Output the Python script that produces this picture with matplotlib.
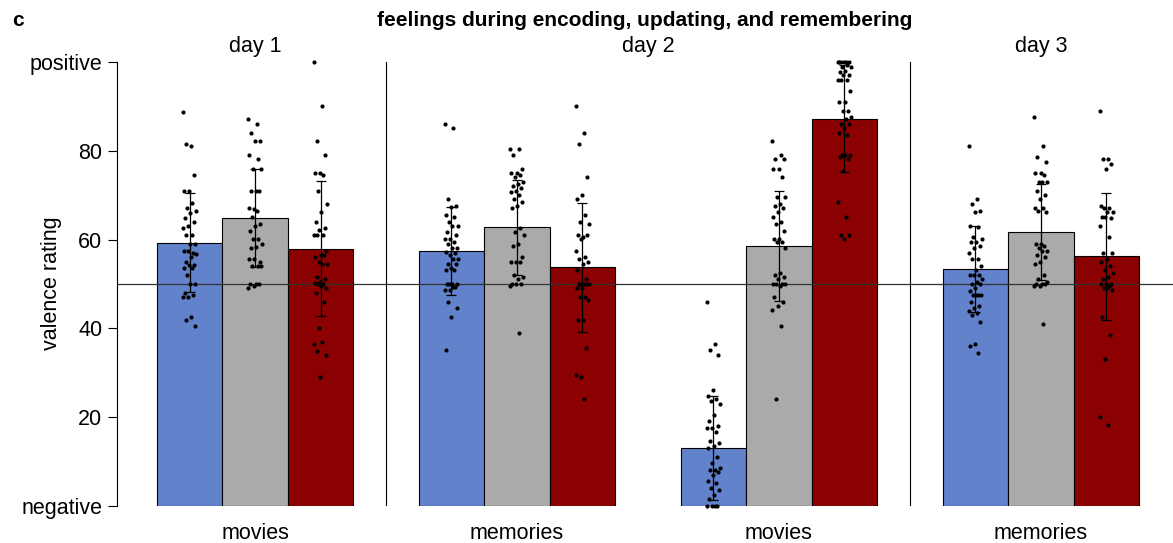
import numpy as np
import matplotlib
matplotlib.use("Agg")
import matplotlib.pyplot as plt

plt.rcParams['font.family'] = ['Liberation Sans', 'DejaVu Sans']

# panel layout: day 1 movies | day 2 memories, day 2 movies | day 3 memories
phases = ["movies", "memories", "movies", "memories"]
days = ["day 1", "day 2", "day 3"]
day_pos = [0, 1.5, 3]
conditions = ["negative", "neutral", "positive"]
colors = ["#6282cc", "#aaaaaa", "#8b0000"]

# mean valence per phase, one list per condition
mean_neg = [59.3, 57.5, 13.1, 53.3]
mean_neu = [64.9, 62.8, 58.5, 61.7]
mean_pos = [57.9, 53.8, 87.2, 56.2]

# standard deviations
sd_neg = [11.1, 9.9, 11.7, 9.7]
sd_neu = [11.0, 10.7, 12.4, 10.9]
sd_pos = [15.2, 14.5, 12.0, 14.2]

# single-subject ratings
d1_mov_neg = [88.7, 81.1, 81.5, 74.5, 71.0, 71.0, 68.2, 67.0, 66.4, 66.0, 64.9, 64.0, 63.1,
              62.5, 61.0, 61.0, 58.9, 59.1, 57.4, 57.0, 57.4, 56.7, 56.1, 55.0, 54.2, 54.2,
              53.7, 53.7, 52.0, 50.1, 50.1, 48.0, 47.5, 47.1, 47.1, 42.5, 42.0, 40.5]
d1_mov_neu = [87.1, 86.0, 84.0, 82.1, 82.1, 79.1, 78.2, 76.0, 76.0, 71.0, 71.0, 71.0, 66.9,
              67.2, 66.5, 65.0, 63.6, 63.1, 62.0, 60.1, 60.1, 58.9, 58.4, 58.2, 55.0, 55.6,
              55.6, 54.1, 54.1, 54.1, 50.1, 50.1, 50.1, 49.5, 49.1]
d1_mov_pos = [100.0, 90.1, 82.1, 79.1, 75.1, 75.1, 74.5, 71.0, 68.0, 66.1, 64.0, 62.5, 62.2,
              61.0, 61.0, 61.0, 57.5, 56.5, 56.0, 56.5, 55.0, 54.4, 54.4, 51.5, 51.1, 50.5,
              50.2, 50.0, 50.0, 49.0, 49.5, 48.0, 46.0, 40.0, 36.5, 37.0, 35.0, 34.0, 29.0]

d2_mem_neg = [86.0, 85.1, 69.1, 67.6, 67.3, 65.5, 65.0, 64.0, 63.1, 63.1, 61.6, 61.0, 60.1,
              60.1, 59.5, 59.1, 58.0, 58.0, 57.3, 57.0, 56.5, 55.6, 55.6, 54.5, 54.5, 53.5,
              53.1, 53.1, 50.1, 50.1, 49.9, 50.1, 49.3, 48.7, 48.7, 49.3, 46.0, 44.5, 42.5, 35.1]
d2_mem_neu = [80.5, 80.5, 79.1, 76.0, 75.1, 75.1, 74.5, 74.0, 73.0, 72.5, 72.1, 71.6, 71.0,
              70.6, 70.0, 69.1, 68.5, 67.6, 67.0, 62.5, 61.6, 61.0, 59.1, 58.6, 56.0, 55.0,
              55.0, 55.0, 52.0, 51.6, 51.1, 50.1, 50.1, 50.1, 49.5, 39.0]
d2_mem_pos = [90.1, 84.1, 81.5, 74.0, 70.0, 69.1, 65.5, 64.0, 63.5, 60.5, 61.0, 61.0, 60.1,
              57.5, 56.0, 55.6, 55.0, 54.5, 53.1, 51.1, 50.1, 50.1, 50.1, 50.1, 50.1, 49.0,
              49.0, 47.0, 47.0, 46.5, 42.0, 42.0, 35.5, 29.1, 29.5, 24.0]

d2_mov_neg = [46.0, 36.6, 35.1, 34.0, 26.1, 24.8, 24.1, 23.6, 23.0, 20.6, 19.1, 18.1, 17.6,
              17.6, 16.6, 14.6, 14.1, 13.6, 13.1, 11.0, 9.6, 8.6, 8.1, 8.1, 7.6, 7.1, 5.6,
              5.1, 4.1, 3.6, 2.5, 1.6, 0.0, 0.0, 0.0, 0.0]
d2_mov_neu = [82.1, 79.1, 78.1, 78.1, 76.0, 76.0, 74.0, 69.5, 69.5, 68.0, 67.6, 67.0, 66.1,
              65.0, 64.0, 63.5, 62.0, 60.1, 60.1, 59.5, 59.5, 58.0, 52.5, 52.0, 51.6, 51.1,
              50.1, 50.1, 50.1, 50.1, 49.6, 47.1, 46.0, 45.0, 44.1, 40.5, 24.1]
d2_mov_pos = [100.0, 100.0, 100.0, 100.0, 100.0, 100.0, 99.4, 98.9, 98.9, 98.0, 97.7, 97.1,
              97.1, 96.0, 96.0, 96.0, 93.5, 91.0, 91.0, 89.0, 89.0, 87.5, 87.1, 86.0, 86.0,
              85.1, 84.0, 83.6, 79.1, 79.1, 79.1, 78.5, 78.1, 75.5, 68.5, 65.0, 61.0, 61.0, 60.1]

d3_mem_neg = [81.1, 69.1, 68.0, 66.5, 66.1, 63.1, 62.8, 60.5, 60.1, 59.5, 59.5, 58.6, 58.0,
              57.0, 55.6, 55.6, 54.1, 53.1, 52.0, 52.0, 52.0, 51.1, 50.5, 50.1, 50.1, 49.0,
              48.5, 47.5, 47.5, 47.5, 47.5, 46.0, 45.0, 44.5, 44.0, 43.5, 43.0, 41.5, 36.5,
              36.0, 34.5]
d3_mem_neu = [87.5, 81.1, 78.5, 77.5, 75.1, 75.1, 74.5, 73.0, 73.0, 73.0, 71.0, 70.0, 69.1,
              67.0, 67.0, 66.5, 66.1, 59.0, 59.0, 58.6, 58.0, 57.5, 57.5, 56.5, 56.0, 55.0,
              54.5, 52.0, 51.1, 50.5, 50.1, 50.1, 50.1, 49.5, 49.5, 41.1]
d3_mem_pos = [89.0, 78.1, 78.1, 77.0, 76.0, 67.6, 67.0, 67.0, 66.1, 66.1, 65.0, 64.8, 65.0,
              63.1, 60.5, 57.0, 57.0, 55.6, 55.0, 54.1, 53.1, 52.5, 51.6, 51.1, 50.1, 50.1,
              50.1, 49.5, 49.0, 48.6, 49.0, 42.5, 38.5, 33.0, 20.0, 18.2]

means = [mean_neg, mean_neu, mean_pos]
sds = [sd_neg, sd_neu, sd_pos]
subjects = [
    [d1_mov_neg, d2_mem_neg, d2_mov_neg, d3_mem_neg],
    [d1_mov_neu, d2_mem_neu, d2_mov_neu, d3_mem_neu],
    [d1_mov_pos, d2_mem_pos, d2_mov_pos, d3_mem_pos],
]

fig = plt.figure(figsize=(11.73, 5.43), dpi=100)
ax = fig.add_axes([0.0997, 0.068, 0.9003, 0.818])

x = np.arange(len(phases))
width = 0.25
jit = 0.026

for c in range(3):
    xc = x + (c - 1) * width
    ax.bar(xc, means[c], width=width, color=colors[c], edgecolor="black",
           linewidth=0.8, zorder=1)
    for g in range(len(phases)):
        vals = np.array(subjects[c][g])
        n = len(vals)
        # spread the dots sideways so they don't pile up
        offs = ((np.arange(n) * 0.618034) % 1 - 0.5) * 2 * jit
        ax.scatter(xc[g] + offs, vals, s=9, color="black", zorder=4,
                   clip_on=False, linewidths=0)
    ax.errorbar(xc, means[c], yerr=sds[c], fmt="none", ecolor="black",
                elinewidth=0.9, capsize=3.4, capthick=0.9, zorder=3)

# neutral line and day separators
ax.axhline(50, color="#333333", linewidth=0.9, zorder=2)
for xs in [0.5, 2.5]:
    ax.plot([xs, xs], [0, 100], color="black", linewidth=0.8, zorder=2)

ax.set_xlim(-0.527, 3.504)
ax.set_ylim(0, 100)
ax.set_yticks([0, 20, 40, 60, 80, 100])
ax.set_yticklabels(["negative", "20", "40", "60", "80", "positive"])
ax.set_xticks(x)
ax.set_xticklabels(phases)
ax.tick_params(axis="x", length=0, pad=12, labelsize=15.5)
ax.tick_params(axis="y", length=6.5, width=0.8, labelsize=15.5, pad=4)
ax.set_ylabel("valence rating", fontsize=15.5)
ax.yaxis.set_label_coords(-0.052, 0.502)

for s in ["top", "right", "bottom"]:
    ax.spines[s].set_visible(False)
ax.spines["left"].set_linewidth(0.8)

for lab, xp in zip(days, day_pos):
    ax.text(xp, 101.0, lab, ha="center", va="bottom", fontsize=15.5)

fig.text(0.55, 0.963, "feelings during encoding, updating, and remembering",
         ha="center", va="center", fontsize=15, fontweight="bold")
fig.text(0.01, 0.963, "c", ha="left", va="center", fontsize=15, fontweight="bold")

fig.savefig("out.png", dpi=100)
